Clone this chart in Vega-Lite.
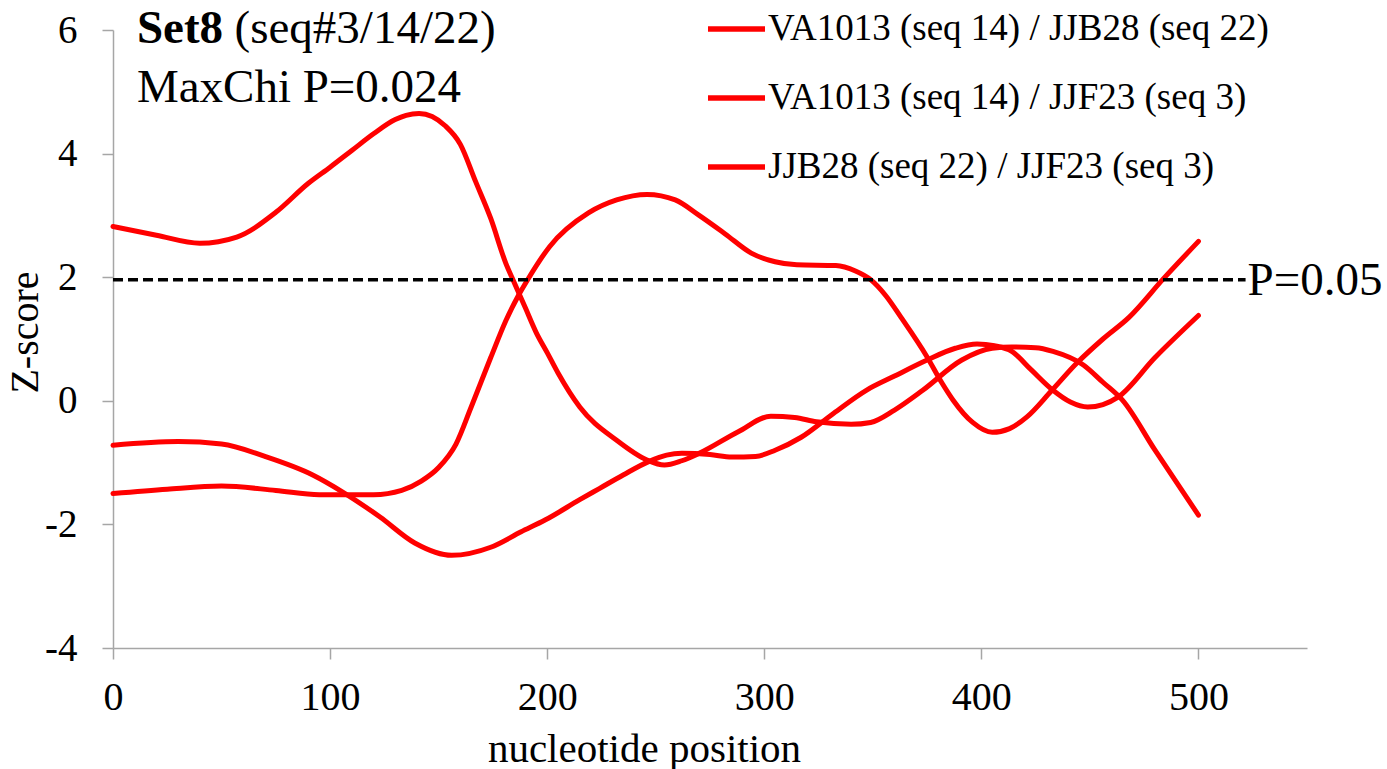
{
  "$schema": "https://vega.github.io/schema/vega-lite/v6.json",
  "width": 1194,
  "height": 618,
  "autosize": {"type": "none"},
  "padding": {"left": 113, "top": 30, "right": 80, "bottom": 121},
  "background": "white",
  "config": {
    "view": {"stroke": null},
    "font": "Liberation Serif"
  },
  "datasets": {
    "curves": [
      {"series": "VA1013 (seq 14) / JJB28 (seq 22)", "pos": 0, "z": 2.82},
      {"series": "VA1013 (seq 14) / JJB28 (seq 22)", "pos": 20, "z": 2.68},
      {"series": "VA1013 (seq 14) / JJB28 (seq 22)", "pos": 40, "z": 2.55},
      {"series": "VA1013 (seq 14) / JJB28 (seq 22)", "pos": 57, "z": 2.65},
      {"series": "VA1013 (seq 14) / JJB28 (seq 22)", "pos": 75, "z": 3.05},
      {"series": "VA1013 (seq 14) / JJB28 (seq 22)", "pos": 90, "z": 3.52},
      {"series": "VA1013 (seq 14) / JJB28 (seq 22)", "pos": 100, "z": 3.78},
      {"series": "VA1013 (seq 14) / JJB28 (seq 22)", "pos": 110, "z": 4.05},
      {"series": "VA1013 (seq 14) / JJB28 (seq 22)", "pos": 120, "z": 4.32},
      {"series": "VA1013 (seq 14) / JJB28 (seq 22)", "pos": 130, "z": 4.55},
      {"series": "VA1013 (seq 14) / JJB28 (seq 22)", "pos": 135, "z": 4.62},
      {"series": "VA1013 (seq 14) / JJB28 (seq 22)", "pos": 141, "z": 4.65},
      {"series": "VA1013 (seq 14) / JJB28 (seq 22)", "pos": 147, "z": 4.6},
      {"series": "VA1013 (seq 14) / JJB28 (seq 22)", "pos": 153, "z": 4.45},
      {"series": "VA1013 (seq 14) / JJB28 (seq 22)", "pos": 160, "z": 4.15},
      {"series": "VA1013 (seq 14) / JJB28 (seq 22)", "pos": 167, "z": 3.55},
      {"series": "VA1013 (seq 14) / JJB28 (seq 22)", "pos": 174, "z": 2.95},
      {"series": "VA1013 (seq 14) / JJB28 (seq 22)", "pos": 181, "z": 2.22},
      {"series": "VA1013 (seq 14) / JJB28 (seq 22)", "pos": 185, "z": 1.9},
      {"series": "VA1013 (seq 14) / JJB28 (seq 22)", "pos": 190, "z": 1.5},
      {"series": "VA1013 (seq 14) / JJB28 (seq 22)", "pos": 195, "z": 1.1},
      {"series": "VA1013 (seq 14) / JJB28 (seq 22)", "pos": 200, "z": 0.78},
      {"series": "VA1013 (seq 14) / JJB28 (seq 22)", "pos": 205, "z": 0.45},
      {"series": "VA1013 (seq 14) / JJB28 (seq 22)", "pos": 215, "z": -0.1},
      {"series": "VA1013 (seq 14) / JJB28 (seq 22)", "pos": 232, "z": -0.64},
      {"series": "VA1013 (seq 14) / JJB28 (seq 22)", "pos": 246, "z": -0.96},
      {"series": "VA1013 (seq 14) / JJB28 (seq 22)", "pos": 254, "z": -1.04},
      {"series": "VA1013 (seq 14) / JJB28 (seq 22)", "pos": 262, "z": -0.97},
      {"series": "VA1013 (seq 14) / JJB28 (seq 22)", "pos": 270, "z": -0.85},
      {"series": "VA1013 (seq 14) / JJB28 (seq 22)", "pos": 288, "z": -0.5},
      {"series": "VA1013 (seq 14) / JJB28 (seq 22)", "pos": 303, "z": -0.25},
      {"series": "VA1013 (seq 14) / JJB28 (seq 22)", "pos": 314, "z": -0.27},
      {"series": "VA1013 (seq 14) / JJB28 (seq 22)", "pos": 324, "z": -0.34},
      {"series": "VA1013 (seq 14) / JJB28 (seq 22)", "pos": 340, "z": -0.38},
      {"series": "VA1013 (seq 14) / JJB28 (seq 22)", "pos": 349, "z": -0.35},
      {"series": "VA1013 (seq 14) / JJB28 (seq 22)", "pos": 360, "z": -0.15},
      {"series": "VA1013 (seq 14) / JJB28 (seq 22)", "pos": 373, "z": 0.17},
      {"series": "VA1013 (seq 14) / JJB28 (seq 22)", "pos": 391, "z": 0.66},
      {"series": "VA1013 (seq 14) / JJB28 (seq 22)", "pos": 405, "z": 0.85},
      {"series": "VA1013 (seq 14) / JJB28 (seq 22)", "pos": 414, "z": 0.87},
      {"series": "VA1013 (seq 14) / JJB28 (seq 22)", "pos": 425, "z": 0.86},
      {"series": "VA1013 (seq 14) / JJB28 (seq 22)", "pos": 433, "z": 0.8},
      {"series": "VA1013 (seq 14) / JJB28 (seq 22)", "pos": 447, "z": 0.58},
      {"series": "VA1013 (seq 14) / JJB28 (seq 22)", "pos": 456, "z": 0.3},
      {"series": "VA1013 (seq 14) / JJB28 (seq 22)", "pos": 465, "z": 0.01},
      {"series": "VA1013 (seq 14) / JJB28 (seq 22)", "pos": 480, "z": -0.8},
      {"series": "VA1013 (seq 14) / JJB28 (seq 22)", "pos": 500, "z": -1.85},

      {"series": "VA1013 (seq 14) / JJF23 (seq 3)", "pos": 0, "z": -1.5},
      {"series": "VA1013 (seq 14) / JJF23 (seq 3)", "pos": 25, "z": -1.43},
      {"series": "VA1013 (seq 14) / JJF23 (seq 3)", "pos": 50, "z": -1.38},
      {"series": "VA1013 (seq 14) / JJF23 (seq 3)", "pos": 75, "z": -1.45},
      {"series": "VA1013 (seq 14) / JJF23 (seq 3)", "pos": 95, "z": -1.52},
      {"series": "VA1013 (seq 14) / JJF23 (seq 3)", "pos": 120, "z": -1.52},
      {"series": "VA1013 (seq 14) / JJF23 (seq 3)", "pos": 133, "z": -1.45},
      {"series": "VA1013 (seq 14) / JJF23 (seq 3)", "pos": 142, "z": -1.3},
      {"series": "VA1013 (seq 14) / JJF23 (seq 3)", "pos": 150, "z": -1.08},
      {"series": "VA1013 (seq 14) / JJF23 (seq 3)", "pos": 158, "z": -0.7},
      {"series": "VA1013 (seq 14) / JJF23 (seq 3)", "pos": 165, "z": -0.1},
      {"series": "VA1013 (seq 14) / JJF23 (seq 3)", "pos": 174, "z": 0.7},
      {"series": "VA1013 (seq 14) / JJF23 (seq 3)", "pos": 181, "z": 1.3},
      {"series": "VA1013 (seq 14) / JJF23 (seq 3)", "pos": 187, "z": 1.72},
      {"series": "VA1013 (seq 14) / JJF23 (seq 3)", "pos": 191, "z": 1.96},
      {"series": "VA1013 (seq 14) / JJF23 (seq 3)", "pos": 201, "z": 2.49},
      {"series": "VA1013 (seq 14) / JJF23 (seq 3)", "pos": 219, "z": 3.04},
      {"series": "VA1013 (seq 14) / JJF23 (seq 3)", "pos": 232, "z": 3.25},
      {"series": "VA1013 (seq 14) / JJF23 (seq 3)", "pos": 246, "z": 3.34},
      {"series": "VA1013 (seq 14) / JJF23 (seq 3)", "pos": 259, "z": 3.25},
      {"series": "VA1013 (seq 14) / JJF23 (seq 3)", "pos": 270, "z": 3.0},
      {"series": "VA1013 (seq 14) / JJF23 (seq 3)", "pos": 282, "z": 2.7},
      {"series": "VA1013 (seq 14) / JJF23 (seq 3)", "pos": 294, "z": 2.39},
      {"series": "VA1013 (seq 14) / JJF23 (seq 3)", "pos": 305, "z": 2.25},
      {"series": "VA1013 (seq 14) / JJF23 (seq 3)", "pos": 315, "z": 2.2},
      {"series": "VA1013 (seq 14) / JJF23 (seq 3)", "pos": 333, "z": 2.19},
      {"series": "VA1013 (seq 14) / JJF23 (seq 3)", "pos": 342, "z": 2.1},
      {"series": "VA1013 (seq 14) / JJF23 (seq 3)", "pos": 349, "z": 1.96},
      {"series": "VA1013 (seq 14) / JJF23 (seq 3)", "pos": 356, "z": 1.7},
      {"series": "VA1013 (seq 14) / JJF23 (seq 3)", "pos": 363, "z": 1.35},
      {"series": "VA1013 (seq 14) / JJF23 (seq 3)", "pos": 375, "z": 0.71},
      {"series": "VA1013 (seq 14) / JJF23 (seq 3)", "pos": 382, "z": 0.28},
      {"series": "VA1013 (seq 14) / JJF23 (seq 3)", "pos": 387, "z": 0.01},
      {"series": "VA1013 (seq 14) / JJF23 (seq 3)", "pos": 396, "z": -0.35},
      {"series": "VA1013 (seq 14) / JJF23 (seq 3)", "pos": 405, "z": -0.51},
      {"series": "VA1013 (seq 14) / JJF23 (seq 3)", "pos": 413, "z": -0.45},
      {"series": "VA1013 (seq 14) / JJF23 (seq 3)", "pos": 421, "z": -0.26},
      {"series": "VA1013 (seq 14) / JJF23 (seq 3)", "pos": 432, "z": 0.15},
      {"series": "VA1013 (seq 14) / JJF23 (seq 3)", "pos": 444, "z": 0.61},
      {"series": "VA1013 (seq 14) / JJF23 (seq 3)", "pos": 456, "z": 1.0},
      {"series": "VA1013 (seq 14) / JJF23 (seq 3)", "pos": 468, "z": 1.35},
      {"series": "VA1013 (seq 14) / JJF23 (seq 3)", "pos": 484, "z": 1.98},
      {"series": "VA1013 (seq 14) / JJF23 (seq 3)", "pos": 500, "z": 2.58},

      {"series": "JJB28 (seq 22) / JJF23 (seq 3)", "pos": 0, "z": -0.72},
      {"series": "JJB28 (seq 22) / JJF23 (seq 3)", "pos": 30, "z": -0.66},
      {"series": "JJB28 (seq 22) / JJF23 (seq 3)", "pos": 50, "z": -0.7},
      {"series": "JJB28 (seq 22) / JJF23 (seq 3)", "pos": 70, "z": -0.9},
      {"series": "JJB28 (seq 22) / JJF23 (seq 3)", "pos": 92, "z": -1.2},
      {"series": "JJB28 (seq 22) / JJF23 (seq 3)", "pos": 106, "z": -1.48},
      {"series": "JJB28 (seq 22) / JJF23 (seq 3)", "pos": 123, "z": -1.88},
      {"series": "JJB28 (seq 22) / JJF23 (seq 3)", "pos": 139, "z": -2.3},
      {"series": "JJB28 (seq 22) / JJF23 (seq 3)", "pos": 156, "z": -2.5},
      {"series": "JJB28 (seq 22) / JJF23 (seq 3)", "pos": 174, "z": -2.37},
      {"series": "JJB28 (seq 22) / JJF23 (seq 3)", "pos": 188, "z": -2.12},
      {"series": "JJB28 (seq 22) / JJF23 (seq 3)", "pos": 199, "z": -1.93},
      {"series": "JJB28 (seq 22) / JJF23 (seq 3)", "pos": 215, "z": -1.6},
      {"series": "JJB28 (seq 22) / JJF23 (seq 3)", "pos": 224, "z": -1.42},
      {"series": "JJB28 (seq 22) / JJF23 (seq 3)", "pos": 235, "z": -1.2},
      {"series": "JJB28 (seq 22) / JJF23 (seq 3)", "pos": 247, "z": -0.98},
      {"series": "JJB28 (seq 22) / JJF23 (seq 3)", "pos": 255, "z": -0.88},
      {"series": "JJB28 (seq 22) / JJF23 (seq 3)", "pos": 262, "z": -0.85},
      {"series": "JJB28 (seq 22) / JJF23 (seq 3)", "pos": 275, "z": -0.87},
      {"series": "JJB28 (seq 22) / JJF23 (seq 3)", "pos": 285, "z": -0.91},
      {"series": "JJB28 (seq 22) / JJF23 (seq 3)", "pos": 296, "z": -0.9},
      {"series": "JJB28 (seq 22) / JJF23 (seq 3)", "pos": 305, "z": -0.8},
      {"series": "JJB28 (seq 22) / JJF23 (seq 3)", "pos": 317, "z": -0.59},
      {"series": "JJB28 (seq 22) / JJF23 (seq 3)", "pos": 332, "z": -0.2},
      {"series": "JJB28 (seq 22) / JJF23 (seq 3)", "pos": 347, "z": 0.17},
      {"series": "JJB28 (seq 22) / JJF23 (seq 3)", "pos": 360, "z": 0.4},
      {"series": "JJB28 (seq 22) / JJF23 (seq 3)", "pos": 375, "z": 0.66},
      {"series": "JJB28 (seq 22) / JJF23 (seq 3)", "pos": 388, "z": 0.85},
      {"series": "JJB28 (seq 22) / JJF23 (seq 3)", "pos": 398, "z": 0.92},
      {"series": "JJB28 (seq 22) / JJF23 (seq 3)", "pos": 406, "z": 0.89},
      {"series": "JJB28 (seq 22) / JJF23 (seq 3)", "pos": 414, "z": 0.8},
      {"series": "JJB28 (seq 22) / JJF23 (seq 3)", "pos": 423, "z": 0.5},
      {"series": "JJB28 (seq 22) / JJF23 (seq 3)", "pos": 433, "z": 0.17},
      {"series": "JJB28 (seq 22) / JJF23 (seq 3)", "pos": 441, "z": -0.02},
      {"series": "JJB28 (seq 22) / JJF23 (seq 3)", "pos": 449, "z": -0.1},
      {"series": "JJB28 (seq 22) / JJF23 (seq 3)", "pos": 456, "z": -0.06},
      {"series": "JJB28 (seq 22) / JJF23 (seq 3)", "pos": 463, "z": 0.06},
      {"series": "JJB28 (seq 22) / JJF23 (seq 3)", "pos": 480, "z": 0.7},
      {"series": "JJB28 (seq 22) / JJF23 (seq 3)", "pos": 500, "z": 1.38}
    ],
    "threshold": [{"pos": 0, "pos2": 521.7, "z": 1.96}],
    "titleBold": [{"pos": 11, "z": 5.79, "label": "Set8"}],
    "titleRegular": [
      {"pos": 56, "z": 5.79, "label": "(seq#3/14/22)"},
      {"pos": 11, "z": 4.83, "label": "MaxChi P=0.024"}
    ],
    "pLabel": [{"pos": 522.6, "z": 1.71, "label": "P=0.05"}]
  },
  "encoding": {
    "x": {
      "field": "pos", "type": "quantitative",
      "scale": {"domain": [0, 550], "nice": false},
      "axis": {
        "values": [0, 100, 200, 300, 400, 500],
        "labelExpr": "'' + datum.value",
        "grid": false,
        "labelFlush": false,
        "domainColor": "#a6a6a6", "domainWidth": 1.5,
        "tickColor": "#a6a6a6", "tickWidth": 1.5, "tickSize": 11,
        "labelFont": "Liberation Serif", "labelFontSize": 40, "labelColor": "black",
        "labelPadding": 18,
        "title": "nucleotide position",
        "titleFont": "Liberation Serif", "titleFontSize": 41, "titleFontWeight": "normal", "titleColor": "black",
        "titleX": 531, "titleY": 113, "titleBaseline": "alphabetic", "titleAlign": "center"
      }
    },
    "y": {
      "field": "z", "type": "quantitative",
      "scale": {"domain": [-4, 6], "nice": false},
      "axis": {
        "values": [-4, -2, 0, 2, 4, 6],
        "labelExpr": "'' + datum.value",
        "grid": false,
        "labelFlush": false,
        "domainColor": "#a6a6a6", "domainWidth": 1.5,
        "tickColor": "#a6a6a6", "tickWidth": 1.5, "tickSize": 11,
        "labelFont": "Liberation Serif", "labelFontSize": 39, "labelColor": "black",
        "labelPadding": 25,
        "title": "Z-score",
        "titleFont": "Liberation Serif", "titleFontSize": 40, "titleFontWeight": "normal", "titleColor": "black",
        "titleX": -76, "titleY": 302, "titleAngle": 270, "titleBaseline": "alphabetic", "titleAlign": "center"
      }
    }
  },
  "layer": [
    {
      "data": {"name": "curves"},
      "mark": {"type": "line", "strokeWidth": 5, "interpolate": "monotone", "strokeCap": "round"},
      "encoding": {
        "color": {
          "field": "series", "type": "nominal",
          "scale": {
            "domain": ["VA1013 (seq 14) / JJB28 (seq 22)", "VA1013 (seq 14) / JJF23 (seq 3)", "JJB28 (seq 22) / JJF23 (seq 3)"],
            "range": ["#ff0000", "#ff0000", "#ff0000"]
          },
          "legend": {
            "orient": "none", "legendX": 592, "legendY": -32.5,
            "title": null, "padding": 0,
            "symbolType": "stroke", "symbolSize": 3249, "symbolStrokeWidth": 5.5,
            "labelFont": "Liberation Serif", "labelFontSize": 37, "labelColor": "black",
            "labelOffset": 0, "rowPadding": 19, "labelLimit": 0
          }
        }
      }
    },
    {
      "data": {"name": "threshold"},
      "mark": {"type": "rule", "color": "black", "strokeWidth": 3.5, "strokeDash": [10, 5]},
      "encoding": {
        "x2": {"field": "pos2"}
      }
    },
    {
      "data": {"name": "titleBold"},
      "mark": {"type": "text", "font": "Liberation Serif", "fontSize": 47, "fontWeight": "bold", "align": "left", "baseline": "alphabetic", "color": "black"},
      "encoding": {
        "text": {"field": "label"}
      }
    },
    {
      "data": {"name": "titleRegular"},
      "mark": {"type": "text", "font": "Liberation Serif", "fontSize": 47, "align": "left", "baseline": "alphabetic", "color": "black"},
      "encoding": {
        "text": {"field": "label"}
      }
    },
    {
      "data": {"name": "pLabel"},
      "mark": {"type": "text", "font": "Liberation Serif", "fontSize": 47, "align": "left", "baseline": "alphabetic", "color": "black"},
      "encoding": {
        "text": {"field": "label"}
      }
    }
  ]
}
